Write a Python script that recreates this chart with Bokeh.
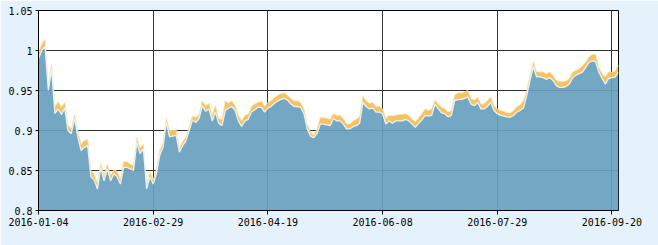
from bokeh.plotting import figure
from bokeh.models import FixedTicker, ColumnDataSource
from bokeh.embed import file_html
from bokeh.resources import INLINE

tick_idx = [0, 35, 70, 105, 140, 175]
tick_labels = ["2016-01-04", "2016-02-29", "2016-04-19", "2016-06-08", "2016-07-29", "2016-09-20"]
y_ticks = [0.8, 0.85, 0.9, 0.95, 1.0, 1.05]
y_labels = ["0.8", "0.85", "0.9", "0.95", "1", "1.05"]

blue = [0.990, 1.000, 1.005, 0.950, 0.977, 0.921, 0.927, 0.920, 0.928, 0.900,
        0.896, 0.915, 0.892, 0.875, 0.879, 0.881, 0.842, 0.838, 0.827, 0.854,
        0.837, 0.852, 0.837, 0.846, 0.842, 0.833, 0.854, 0.854, 0.852, 0.850,
        0.885, 0.871, 0.877, 0.827, 0.842, 0.833, 0.846, 0.869, 0.879, 0.910,
        0.892, 0.893, 0.894, 0.873, 0.881, 0.887, 0.900, 0.913, 0.910, 0.915,
        0.931, 0.924, 0.927, 0.912, 0.923, 0.909, 0.906, 0.925, 0.928, 0.930,
        0.925, 0.912, 0.905, 0.912, 0.914, 0.923, 0.926, 0.929, 0.929, 0.923,
        0.928, 0.930, 0.934, 0.937, 0.939, 0.940, 0.938, 0.933, 0.930, 0.930,
        0.929, 0.921, 0.902, 0.893, 0.891, 0.896, 0.908, 0.908, 0.907, 0.906,
        0.915, 0.912, 0.912, 0.908, 0.902, 0.902, 0.905, 0.906, 0.909, 0.935,
        0.930, 0.927, 0.928, 0.923, 0.923, 0.921, 0.908, 0.912, 0.909, 0.912,
        0.912, 0.912, 0.914, 0.912, 0.908, 0.904, 0.909, 0.913, 0.919, 0.918,
        0.919, 0.933, 0.927, 0.922, 0.921, 0.917, 0.919, 0.9375, 0.9385, 0.939,
        0.940, 0.942, 0.933, 0.931, 0.935, 0.927, 0.927, 0.930, 0.935, 0.925,
        0.921, 0.919, 0.918, 0.917, 0.9165, 0.919, 0.923, 0.925, 0.928, 0.944,
        0.9625, 0.980, 0.967, 0.967, 0.966, 0.964, 0.966, 0.9625, 0.956, 0.954,
        0.954, 0.955, 0.958, 0.966, 0.969, 0.971, 0.973, 0.979, 0.985, 0.987,
        0.986, 0.973, 0.965, 0.958, 0.965, 0.966, 0.967, 0.973]

orange = [0.998, 1.008, 1.014, 0.956, 0.983, 0.930, 0.936, 0.929, 0.935, 0.907,
          0.902, 0.920, 0.899, 0.883, 0.887, 0.889, 0.850, 0.845, 0.834, 0.859,
          0.844, 0.858, 0.844, 0.851, 0.849, 0.839, 0.861, 0.861, 0.858, 0.856,
          0.891, 0.878, 0.883, 0.832, 0.848, 0.838, 0.852, 0.875, 0.885, 0.915,
          0.900, 0.900, 0.901, 0.878, 0.886, 0.892, 0.905, 0.918, 0.916, 0.920,
          0.937, 0.931, 0.934, 0.919, 0.931, 0.915, 0.914, 0.937, 0.934, 0.937,
          0.931, 0.919, 0.912, 0.919, 0.920, 0.930, 0.933, 0.935, 0.937, 0.930,
          0.935, 0.937, 0.941, 0.944, 0.946, 0.947, 0.944, 0.940, 0.937, 0.937,
          0.935, 0.927, 0.908, 0.898, 0.894, 0.902, 0.916, 0.916, 0.915, 0.914,
          0.921, 0.919, 0.919, 0.915, 0.908, 0.908, 0.912, 0.914, 0.917, 0.943,
          0.937, 0.934, 0.935, 0.930, 0.930, 0.927, 0.915, 0.919, 0.918, 0.919,
          0.920, 0.920, 0.921, 0.919, 0.914, 0.911, 0.916, 0.921, 0.927, 0.925,
          0.927, 0.938, 0.933, 0.929, 0.927, 0.923, 0.925, 0.944, 0.947, 0.947,
          0.948, 0.950, 0.940, 0.9375, 0.942, 0.933, 0.933, 0.9375, 0.942, 0.931,
          0.927, 0.925, 0.924, 0.922, 0.922, 0.925, 0.930, 0.932, 0.9375, 0.950,
          0.969, 0.986, 0.973, 0.973, 0.973, 0.971, 0.973, 0.969, 0.9625, 0.961,
          0.961, 0.962, 0.965, 0.973, 0.975, 0.977, 0.981, 0.985, 0.992, 0.995,
          0.995, 0.979, 0.971, 0.967, 0.973, 0.973, 0.974, 0.982]

x = list(range(len(blue)))
src = ColumnDataSource(dict(x=x, blue=blue, orange=orange, base=[0.8] * len(blue)))

p = figure(width=658, height=245, output_backend="svg", toolbar_location=None,
           x_range=(0, len(blue) - 1), y_range=(0.8, 1.05),
           min_border_left=38, min_border_right=40, min_border_top=10, min_border_bottom=35)
p.background_fill_color = "white"
p.border_fill_color = "#e6f2fb"
p.outline_line_color = "black"
p.outline_line_width = 1

p.varea(x="x", y1="blue", y2="orange", source=src, fill_color="#f5bd55", fill_alpha=0.92)
p.line(x="x", y="orange", source=src, line_color="#fbe2b0", line_width=1, line_alpha=0.8)
p.varea(x="x", y1="base", y2="blue", source=src, fill_color="#67a0bf", fill_alpha=0.92)
p.line(x="x", y="blue", source=src, line_color="#eef6fa", line_width=1.3, line_alpha=0.9)

p.xaxis.ticker = FixedTicker(ticks=tick_idx)
p.xaxis.major_label_overrides = {i: l for i, l in zip(tick_idx, tick_labels)}
p.yaxis.ticker = FixedTicker(ticks=y_ticks)
p.yaxis.major_label_overrides = {t: l for t, l in zip(y_ticks, y_labels)}

for ax in (p.xaxis[0], p.yaxis[0]):
    ax.axis_line_color = "black"
    ax.major_tick_line_color = "black"
    ax.minor_tick_line_color = None
    ax.major_tick_in = 0
    ax.major_label_text_font = "DejaVu Sans Mono"
    ax.major_label_text_font_size = "10px"
    ax.major_label_text_color = "black"
p.xaxis.major_tick_out = 4
p.yaxis.major_tick_out = 3
p.xaxis.major_label_standoff = 3
p.yaxis.major_label_standoff = 3

p.xgrid.grid_line_color = "#333333"
p.ygrid.grid_line_color = "#333333"
p.xgrid.grid_line_width = 1
p.ygrid.grid_line_width = 1

open("out.html", "w").write(file_html(p, INLINE))
